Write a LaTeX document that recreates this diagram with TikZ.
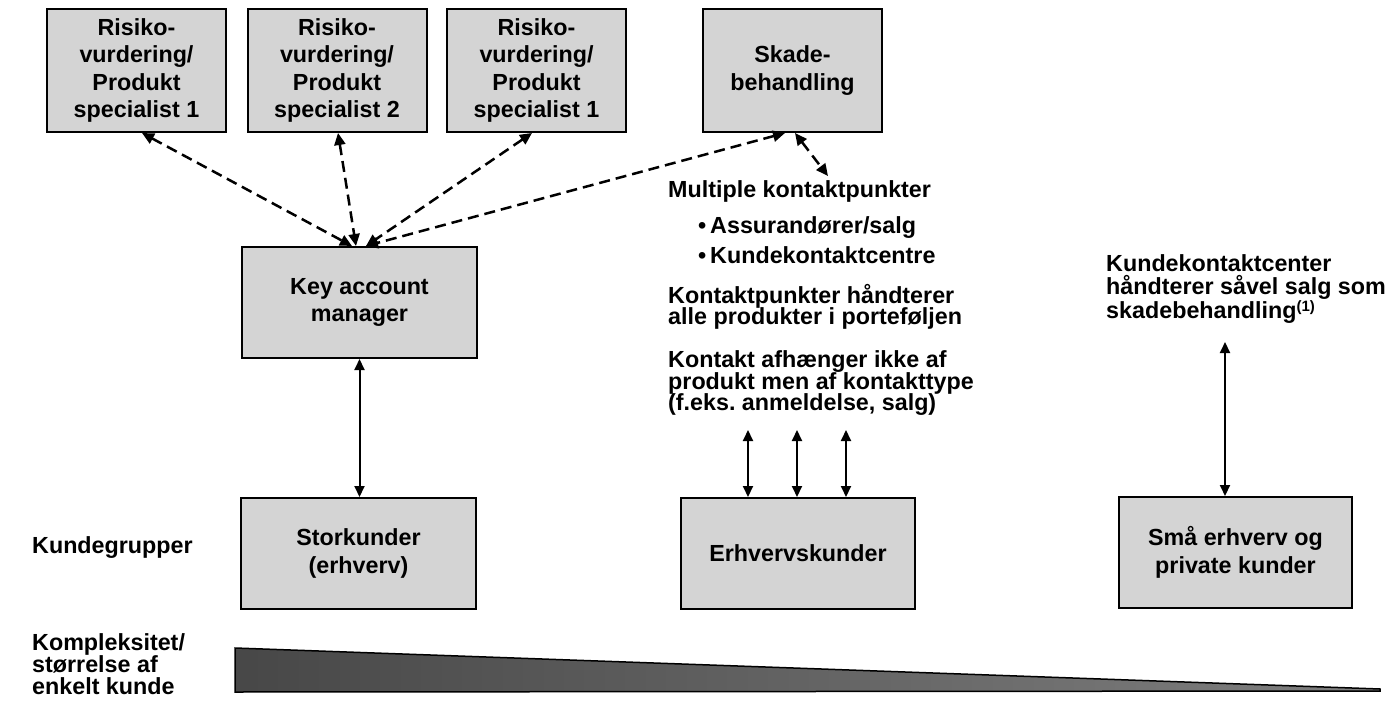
\documentclass[tikz,border=0pt]{standalone}
\usepackage{fontspec}
\setmainfont{Liberation Sans}
\usetikzlibrary{arrows.meta}
\frenchspacing
\begin{document}
\begin{tikzpicture}[x=1pt,y=-1pt,
  box/.style={draw=black,line width=2pt,fill=black!17,inner sep=0pt,align=center,
    font=\bfseries\fontsize{23.3}{27.5}\selectfont},
  topbox/.style={box,minimum width=179pt,minimum height=123pt},
  midbox/.style={box,minimum width=235pt,minimum height=111pt},
  lbl/.style={anchor=base west,inner sep=0pt,font=\bfseries\fontsize{23.3}{22}\selectfont},
  dasharrow/.style={line width=2.5pt,dash pattern=on 11pt off 6pt,
    {Triangle[length=12pt,width=11pt]}-{Triangle[length=12pt,width=11pt]}},
  solidarrow/.style={line width=2pt,
    {Triangle[length=11pt,width=10pt]}-{Triangle[length=11pt,width=10pt]}}
]
\useasboundingbox (0,0) rectangle (1390,704);

% top boxes
\node[topbox] (b1) at (136.5,70.5) {Risiko-\\vurdering/\\Produkt\\specialist 1};
\node[topbox] (b2) at (337,70.5) {Risiko-\\vurdering/\\Produkt\\specialist 2};
\node[topbox] (b3) at (536.5,70.5) {Risiko-\\vurdering/\\Produkt\\specialist 1};
\node[topbox] (sk) at (792.5,70.5) {Skade-\\behandling};

% middle
\node[midbox] (kam) at (359.5,302.5) {Key account\\manager};

% customer boxes
\node[midbox] (stork) at (358.5,553.5) {Storkunder\\(erhverv)};
\node[midbox,minimum width=234pt] (erhv) at (798,553.5) {Erhvervskunder};
\node[midbox,minimum width=233pt] (sma) at (1235.5,552.5) {Små erhverv og\\private kunder};

% middle text block
\node[lbl] (t1) at (668,197) {Multiple kontaktpunkter};
\node[lbl] (t2) at (698,233) {\textbullet\,Assurandører/salg};
\node[lbl] (t3) at (698,263) {\textbullet\,Kundekontaktcentre};
\node[lbl] (t4) at (668,303) {Kontaktpunkter håndterer};
\node[lbl] (t5) at (668,324.5) {alle produkter i porteføljen};
\node[lbl] (t6) at (668,367) {Kontakt afhænger ikke af};
\node[lbl] (t7) at (668,389) {produkt men af kontakttype};
\node[lbl] (t8) at (668,410.5) {(f.eks. anmeldelse, salg)};

% right text block
\node[lbl] (r1) at (1106,271) {Kundekontaktcenter};
\node[lbl] (r2) at (1106,294) {håndterer såvel salg som};
\node[lbl] (r3) at (1106,318) {skadebehandling{\fontsize{15}{15}\selectfont\raisebox{7pt}{(1)}}};

% left labels
\node[lbl] (l1) at (32,553) {Kundegrupper};
\node[lbl] (l2) at (32,650) {Kompleksitet/};
\node[lbl] (l3) at (32,672) {størrelse af};
\node[lbl] (l4) at (32,694) {enkelt kunde};

% dashed arrows
\draw[dasharrow] ([xshift=5.5pt]b1.south) -- ([xshift=-7.5pt]kam.north);
\draw[dasharrow] ([xshift=1pt]b2.south) -- ([xshift=-3.5pt]kam.north);
\draw[dasharrow] ([xshift=-4.5pt]b3.south) -- ([xshift=6.5pt]kam.north);
\draw[dasharrow] ([xshift=-7.5pt]sk.south) -- ([xshift=6.5pt]kam.north);
\coordinate (mk) at (828,176);
\draw[dasharrow] ([xshift=2.5pt]sk.south) -- (mk);

% solid arrows
\draw[solidarrow] (kam.south) -- (kam.south |- stork.north);
\coordinate (e1) at (748,430);
\coordinate (e2) at (797,430);
\coordinate (e3) at (846,430);
\draw[solidarrow] (e1) -- (e1 |- erhv.north);
\draw[solidarrow] (e2) -- (e2 |- erhv.north);
\draw[solidarrow] (e3) -- (e3 |- erhv.north);
\coordinate (s1) at (1225,342);
\draw[solidarrow] (s1) -- (s1 |- sma.north);

% complexity wedge
\shade[left color=black!72,right color=black!50,draw=black,line width=1.5pt]
  (235,648) -- (1380,689) -- (1380,691) -- (235,692) -- cycle;
\end{tikzpicture}
\end{document}
